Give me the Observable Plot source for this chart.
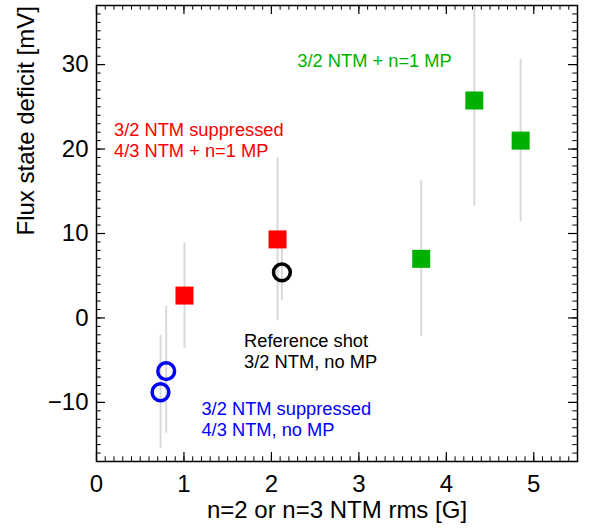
<!DOCTYPE html>
<html>
<head>
<meta charset="utf-8">
<script src="https://cdn.jsdelivr.net/npm/d3@7"></script>
<script src="https://cdn.jsdelivr.net/npm/@observablehq/plot@0.6"></script>
<style>
  html, body { margin: 0; padding: 0; background: #fff; }
</style>
</head>
<body>
<div id="chart"></div>
<script>
// ---- data ----
const groups = ["blue", "blue", "red", "red", "ref", "green", "green", "green"];
const xValues = [0.797, 0.732, 1.006, 2.07, 2.12, 3.713, 4.32, 4.85];
const yValues = [-6.3, -8.8, 2.65, 9.3, 5.4, 7.0, 25.75, 21.0];
const yLow  = [-13.65, -15.5, -3.59, -0.31, 2.06, -2.2, 13.23, 11.38];
const yHigh = [1.39, -2.08, 8.89, 18.96, 8.76, 16.27, 38.3, 30.6];

const groupColors = { blue: "#0000ff", red: "#ff0000", ref: "#000000", green: "#00b000" };
const groupShapes = { blue: "circle", red: "square", ref: "circle", green: "square" };

const xDomain = [0, 5.5];
const yDomain = [-17, 37];
const xMajorTicks = [0, 1, 2, 3, 4, 5];
const yMajorTicks = [-10, 0, 10, 20, 30];
const xMinorTicks = d3.range(0, 56).map(i => i / 10);
const yMinorTicks = d3.range(-17, 38);

const xTitle = "n=2 or n=3 NTM rms [G]";
const yTitle = "Flux state deficit [mV]";

const annoTexts = [
  "3/2 NTM + n=1 MP",
  "3/2 NTM suppressed", "4/3 NTM + n=1 MP",
  "Reference shot", "3/2 NTM, no MP",
  "3/2 NTM suppressed", "4/3 NTM, no MP"
];
const annoGroups = ["green", "red", "red", "ref", "ref", "blue", "blue"];
const annoX = [2.296, 0.20, 0.20, 1.688, 1.688, 1.20, 1.20];
const annoY = [30.45, 22.2, 19.7, -2.79, -5.27, -10.79, -13.33];

// ---- build tables ----
const points = xValues.map((x, i) => ({
  x, y: yValues[i], lo: yLow[i], hi: yHigh[i],
  color: groupColors[groups[i]], shape: groupShapes[groups[i]]
}));
const annotations = annoTexts.map((t, i) => ({
  text: t, x: annoX[i], y: annoY[i], color: groupColors[annoGroups[i]]
}));

const W = 591, H = 529;
const mL = 96, mR = 14, mT = 5, mB = 68;
const innerW = W - mL - mR, innerH = H - mT - mB;
const majorLen = 9, minorLen = 4.7;
const font = "'Liberation Sans', Arial, Helvetica, sans-serif";

const chart = Plot.plot({
  width: W, height: H,
  marginLeft: mL, marginRight: mR, marginTop: mT, marginBottom: mB,
  style: { fontFamily: font, background: "#fff", color: "#000" },
  x: { domain: xDomain },
  y: { domain: yDomain },
  color: { type: "identity" },
  marks: [
    // error bars
    Plot.ruleX(points, { x: "x", y1: "lo", y2: "hi", stroke: "#d9d9d9", strokeWidth: 2, clip: true }),
    // squares
    Plot.dot(points.filter(d => d.shape === "square"), {
      x: "x", y: "y", symbol: "square", r: 10.16, fill: "color", stroke: "none"
    }),
    // circles
    Plot.dot(points.filter(d => d.shape === "circle"), {
      x: "x", y: "y", symbol: "circle", r: 8.4, fill: "none", stroke: "color", strokeWidth: 3.5
    }),
    // inward ticks, bottom & top
    Plot.ruleX(xMinorTicks, { x: d => d, insetTop: innerH - minorLen, stroke: "#000", strokeWidth: 1 }),
    Plot.ruleX(xMinorTicks, { x: d => d, insetBottom: innerH - minorLen, stroke: "#000", strokeWidth: 1 }),
    Plot.ruleX(xMajorTicks, { x: d => d, insetTop: innerH - majorLen, stroke: "#000", strokeWidth: 1.2 }),
    Plot.ruleX(xMajorTicks, { x: d => d, insetBottom: innerH - majorLen, stroke: "#000", strokeWidth: 1.2 }),
    // inward ticks, left & right
    Plot.ruleY(yMinorTicks, { y: d => d, insetRight: innerW - minorLen, stroke: "#000", strokeWidth: 1 }),
    Plot.ruleY(yMinorTicks, { y: d => d, insetLeft: innerW - minorLen, stroke: "#000", strokeWidth: 1 }),
    Plot.ruleY(yMajorTicks, { y: d => d, insetRight: innerW - majorLen, stroke: "#000", strokeWidth: 1.2 }),
    Plot.ruleY(yMajorTicks, { y: d => d, insetLeft: innerW - majorLen, stroke: "#000", strokeWidth: 1.2 }),
    // tick labels
    Plot.axisX(xMajorTicks, { anchor: "bottom", tickSize: 0, tickPadding: 13, fontSize: 24, label: null }),
    Plot.axisY(yMajorTicks, { anchor: "left", tickSize: 0, tickPadding: 8, fontSize: 24, label: null }),
    // axis titles
    Plot.text([xTitle], { frameAnchor: "bottom", dy: 56, fontSize: 24, text: d => d, fill: "#000" }),
    Plot.text([yTitle], { frameAnchor: "left", dx: -70, dy: 2, rotate: -90, fontSize: 24, text: d => d, fill: "#000" }),
    // annotations
    Plot.text(annotations, { x: "x", y: "y", text: "text", fill: "color", textAnchor: "start", lineAnchor: "middle", fontSize: 18.3 }),
    // frame
    Plot.frame({ stroke: "#000", strokeWidth: 1.5 })
  ]
});
document.getElementById("chart").appendChild(chart);
</script>
</body>
</html>
